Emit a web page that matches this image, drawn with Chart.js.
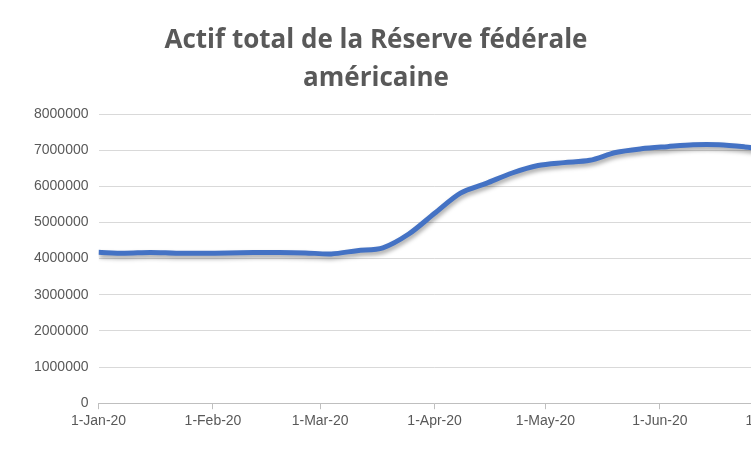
<!DOCTYPE html>
<html><head><meta charset="utf-8">
<script src="https://cdn.jsdelivr.net/npm/chart.js@4/dist/chart.umd.min.js"></script>
<style>html,body{margin:0;padding:0;background:#fff;overflow:hidden}#w{width:800px;height:452px;position:relative}</style>
</head><body><div id="w"><canvas id="c"></canvas></div>
<script>
const titleLines = ["Actif total de la Réserve fédérale", "américaine"];
const dayOffsets = [0,7,14,21,28,35,42,49,56,63,70,77,84,91,98,105,112,119,126,133,140,147,154,161,168,175,182];
const totalAssets = [4173000,4148000,4170000,4150000,4145000,4155000,4170000,4170000,4158000,4130000,4220000,4300000,4680000,5254000,5813000,6083000,6368000,6574000,6655000,6719000,6934000,7037000,7097000,7150000,7150000,7090000,7005000];
const monthTickDays = [0,31,60,91,121,152,182];
const monthTickLabels = ["1-Jan-20","1-Feb-20","1-Mar-20","1-Apr-20","1-May-20","1-Jun-20","1-Jul-20"];
const shadow = {id:'shadow',
  beforeDatasetDraw(ch){const c=ch.ctx;c.save();c.shadowColor='rgba(0,0,0,0.35)';c.shadowBlur=4;c.shadowOffsetX=1;c.shadowOffsetY=3;},
  afterDatasetDraw(ch){ch.ctx.restore();}};
const titleDraw = {id:'titleDraw', afterDraw(ch){const c=ch.ctx;c.save();c.fillStyle='#595959';
  c.font='bold 26px "Open Sans"';c.textAlign='center';c.textBaseline='middle';
  titleLines.forEach((t,i)=>c.fillText(t,376,41+i*38));c.restore();}};
new Chart(document.getElementById('c'),{
  type:'line',
  data:{datasets:[{data:dayOffsets.map((d,i)=>({x:d,y:totalAssets[i]})),borderColor:'#4472C4',borderWidth:5,pointRadius:0,tension:0.3,fill:false}]},
  options:{responsive:true,maintainAspectRatio:false,animation:false,
    layout:{padding:{left:24,right:25,top:114,bottom:18}},
    plugins:{legend:{display:false},tooltip:{enabled:false},title:{display:false}},
    scales:{
      x:{type:'linear',min:0,max:182,
        afterBuildTicks(s){s.ticks=monthTickDays.map(v=>({value:v}));},
        ticks:{autoSkip:false,maxRotation:0,color:'#595959',font:{family:'Liberation Sans',size:14},padding:4,
          callback:(v)=>monthTickLabels[monthTickDays.indexOf(v)]},
        grid:{display:true,drawOnChartArea:false,drawTicks:true,tickLength:6,color:'#bfbfbf'},
        border:{color:'#bfbfbf',width:1}},
      y:{min:0,max:8000000,
        ticks:{stepSize:1000000,color:'#595959',font:{family:'Liberation Sans',size:14},padding:10,callback:v=>String(v)},
        grid:{color:'#d9d9d9',drawTicks:false},border:{display:false}}
    }},
  plugins:[shadow,titleDraw]
});
</script></body></html>
